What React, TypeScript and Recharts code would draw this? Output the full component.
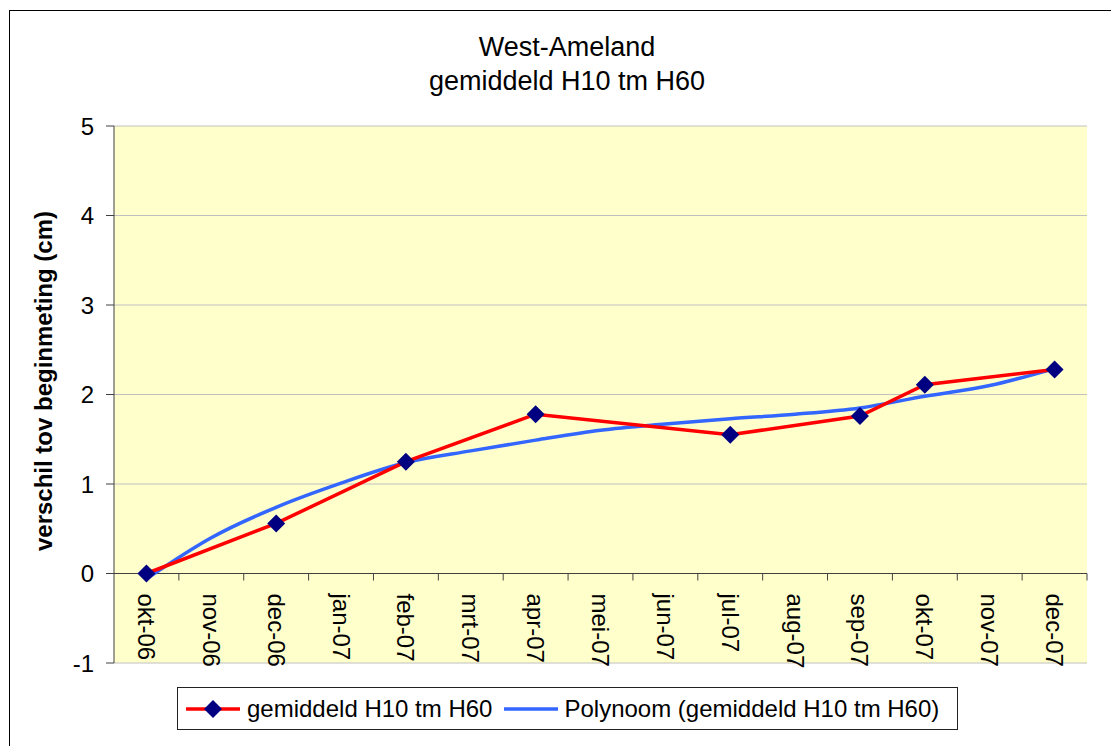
import {
  LineChart,
  Line,
  XAxis,
  YAxis,
  CartesianGrid,
  ReferenceLine,
  ReferenceDot,
  Legend,
} from 'recharts';

const months = [
  'okt-06', 'nov-06', 'dec-06', 'jan-07', 'feb-07', 'mrt-07', 'apr-07', 'mei-07',
  'jun-07', 'jul-07', 'aug-07', 'sep-07', 'okt-07', 'nov-07', 'dec-07',
];
const gemiddeld = [0, null, 0.56, null, 1.25, null, 1.78, null, null, 1.55, null, 1.76, 2.11, null, 2.28];
const polynoom = [-0.06, 0.4, 0.74, 1.01, 1.24, 1.37, 1.49, 1.6, 1.67, 1.73, 1.78, 1.85, 1.98, 2.1, 2.29];
const yTicks = [-1, 0, 1, 2, 3, 4, 5];

const data = months.map((m, i) => ({ m, gem: gemiddeld[i], poly: polynoom[i] }));

const W = 1111;
const H = 746;
const M = { top: 126, right: 24, bottom: 83, left: 14 };
const Y_W = 100;
const PLOT_W = W - M.left - M.right - Y_W;
const BAND = PLOT_W / months.length;
const FONT = '"Liberation Sans", Arial, sans-serif';

const Diamond = (props: any) => {
  const { cx, cy, index, value } = props;
  if (value == null || cx == null || cy == null) return <g key={index} />;
  return (
    <polygon
      key={index}
      points={`${cx},${cy - 9} ${cx + 9},${cy} ${cx},${cy + 9} ${cx - 9},${cy}`}
      fill="#000080"
    />
  );
};

// category label + tick mark hanging under the 0-line
const CatLabel = (label: string) => (props: any) => {
  const { cx, cy } = props;
  return (
    <g>
      <line x1={cx + BAND / 2} x2={cx + BAND / 2} y1={cy} y2={cy + 7} stroke="#404040" />
      <text
        x={cx}
        y={cy + 20}
        transform={`rotate(90, ${cx}, ${cy + 20})`}
        dominantBaseline="central"
        fontSize={24}
        fontFamily={FONT}
        fill="#000"
      >
        {label}
      </text>
    </g>
  );
};

const LegendBox = () => (
  <div
    style={{
      width: 781,
      height: 43,
      boxSizing: 'border-box',
      border: '1px solid #222',
      background: '#fff',
      display: 'flex',
      alignItems: 'center',
      fontFamily: FONT,
      fontSize: 24,
      color: '#000',
    }}
  >
    <svg width={56} height={20} style={{ marginLeft: 7 }}>
      <line x1={1} x2={55} y1={10} y2={10} stroke="#FF0000" strokeWidth={3.5} />
      <polygon points="28,1 37,10 28,19 19,10" fill="#000080" />
    </svg>
    <span style={{ marginLeft: 6 }}>gemiddeld H10 tm H60</span>
    <svg width={56} height={20} style={{ marginLeft: 11 }}>
      <line x1={1} x2={55} y1={10} y2={10} stroke="#3366FF" strokeWidth={3.5} />
    </svg>
    <span style={{ marginLeft: 5 }}>Polynoom (gemiddeld H10 tm H60)</span>
  </div>
);

export default function App() {
  return (
    <div style={{ position: 'absolute', left: 0, top: 0, width: W, height: H, overflow: 'hidden', background: '#fff' }}>
      <div
        style={{
          position: 'absolute',
          left: 9,
          top: 10,
          width: 1200,
          height: 800,
          border: '1px solid #000',
        }}
      />
      <div
        style={{
          position: 'absolute',
          left: 367,
          top: 30,
          width: 400,
          textAlign: 'center',
          fontFamily: FONT,
          fontSize: 27,
          lineHeight: '34px',
          color: '#000',
        }}
      >
        West-Ameland
        <br />
        gemiddeld H10 tm H60
      </div>
      <LineChart width={W} height={H} data={data} margin={M} style={{ position: 'absolute', left: 0, top: 0 }}>
        <CartesianGrid vertical={false} stroke="#c0c0c0" fill="#FFFFCC" />
        <XAxis
          dataKey="m"
          height={0}
          tick={false}
          tickLine={false}
          axisLine={{ stroke: '#404040' }}
          padding={{ left: BAND / 2, right: BAND / 2 }}
        />
        <XAxis
          xAxisId="top"
          dataKey="m"
          orientation="top"
          height={0}
          tick={false}
          tickLine={false}
          axisLine={{ stroke: '#808080' }}
        />
        <YAxis
          domain={[-1, 5]}
          ticks={yTicks}
          width={Y_W}
          tickSize={8}
          tickMargin={12}
          axisLine={{ stroke: '#404040' }}
          tickLine={{ stroke: '#404040' }}
          tick={{ fontSize: 24, fill: '#000', fontFamily: FONT }}
          label={{
            content: () => (
              <text
                x={43}
                y={381}
                transform="rotate(-90, 43, 381)"
                textAnchor="middle"
                dominantBaseline="central"
                fontSize={24}
                fontWeight="bold"
                fontFamily={FONT}
                fill="#000"
              >
                verschil tov beginmeting (cm)
              </text>
            ),
          }}
        />
        <YAxis
          yAxisId="right"
          orientation="right"
          domain={[-1, 5]}
          width={0}
          tick={false}
          tickLine={false}
          axisLine={{ stroke: '#808080' }}
        />
        <ReferenceLine y={0} stroke="#404040" />
        {months.map((m) => (
          <ReferenceDot key={m} x={m} y={0} r={0} shape={CatLabel(m)} />
        ))}
        <Line
          dataKey="poly"
          type="monotone"
          stroke="#3366FF"
          strokeWidth={3.5}
          dot={false}
          activeDot={false}
          isAnimationActive={false}
        />
        <Line
          dataKey="gem"
          stroke="#FF0000"
          strokeWidth={3.5}
          connectNulls
          dot={Diamond}
          activeDot={false}
          isAnimationActive={false}
        />
        <Legend
          layout="horizontal"
          verticalAlign="middle"
          align="center"
          content={LegendBox}
          wrapperStyle={{ left: 177, top: 687, width: 781, height: 43 }}
        />
      </LineChart>
    </div>
  );
}
